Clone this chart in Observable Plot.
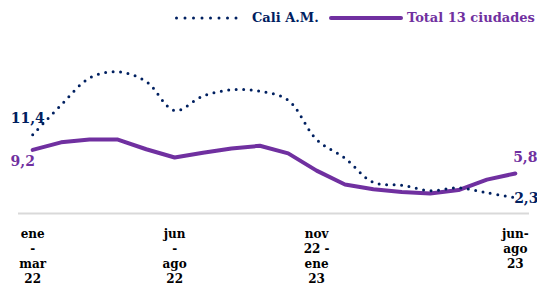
<!DOCTYPE html>
<html><head><meta charset="utf-8">
<script src="https://cdn.jsdelivr.net/npm/d3@7"></script>
<script src="https://cdn.jsdelivr.net/npm/@observablehq/plot@0.6"></script>
<style>
body{margin:0;background:#fff;font-family:"DejaVu Serif",serif;}
#legend{height:35px;position:relative;font-weight:bold;font-size:13px;}
#legend .el{position:absolute;white-space:nowrap;}
#legend span.el{top:10px;line-height:16px;}
#legend svg.el{top:13px;display:block;}
</style></head>
<body>
<div id="legend">
  <svg class="el" style="left:173px" width="76" height="10"><line x1="3.5" y1="5" x2="71.5" y2="5" stroke="#002060" stroke-width="3" stroke-dasharray="0 8.5" stroke-linecap="round"/></svg>
  <span class="el" style="left:252px;color:#002060">Cali A.M.</span>
  <svg class="el" style="left:329px" width="74" height="10"><line x1="2" y1="5" x2="72" y2="5" stroke="#7030A0" stroke-width="4" stroke-linecap="round"/></svg>
  <span class="el" style="left:407px;color:#7030A0">Total 13 ciudades</span>
</div>
<div id="chart"></div>
<script>
const periods = ["ene-mar 22","feb-abr 22","mar-may 22","abr-jun 22","may-jul 22","jun-ago 22","jul-sep 22","ago-oct 22","sep-nov 22","oct-dic 22","nov 22-ene 23","dic 22-feb 23","ene-mar 23","feb-abr 23","mar-may 23","abr-jun 23","may-jul 23","jun-ago 23"];
const cali = [11.4,15.7,19.6,20.5,19.1,14.9,17.0,17.9,17.7,16.4,10.7,8.0,4.5,4.1,3.3,3.7,3.0,2.3];
const total = [9.2,10.3,10.7,10.7,9.3,8.1,8.8,9.4,9.8,8.7,6.2,4.2,3.5,3.1,2.9,3.4,4.9,5.8];
const tickIdx = [0,5,10,17];
const tickLabels = ["ene\n-\nmar\n22","jun\n-\nago\n22","nov\n22 -\nene\n23","jun-\nago\n23"];

const caliData = cali.map((v,i)=>({i,v,p:periods[i]}));
const totalData = total.map((v,i)=>({i,v,p:periods[i]}));
const fmt = v => d3.format(".1f")(v).replace(".", ",");
const last = periods.length-1;

const chart = Plot.plot({
  width:537, height:258,
  marginLeft:18, marginRight:8, marginTop:26, marginBottom:80,
  style:{fontFamily:"DejaVu Serif, serif", background:"#fff"},
  x:{domain:[-0.5,last+0.5]},
  y:{domain:[0,22], axis:null},
  marks:[
    Plot.ruleY([0],{stroke:"#d9d9d9", strokeWidth:2}),
    Plot.axisX(tickIdx,{tickSize:0, tickFormat:(d)=>tickLabels[tickIdx.indexOf(d)], fontWeight:"bold", fontSize:12, fill:"#000", lineHeight:1.25, textAnchor:"middle", lineAnchor:"top", dy:5, label:null}),
    Plot.line(totalData,{x:"i",y:"v",stroke:"#7030A0",strokeWidth:4,strokeLinejoin:"round"}),
    Plot.line(caliData,{x:"i",y:"v",stroke:"#002060",strokeWidth:3,strokeDasharray:"0 7.5",strokeLinecap:"round",curve:"catmull-rom"}),
    Plot.text([caliData[0]],{x:"i",y:"v",text:d=>fmt(d.v),fill:"#002060",fontWeight:"bold",fontSize:14,dx:-5,dy:-16}),
    Plot.text([totalData[0]],{x:"i",y:"v",text:d=>fmt(d.v),fill:"#7030A0",fontWeight:"bold",fontSize:14,dx:-10,dy:12}),
    Plot.text([totalData[last]],{x:"i",y:"v",text:d=>fmt(d.v),fill:"#7030A0",fontWeight:"bold",fontSize:14,dx:10,dy:-16}),
    Plot.text([caliData[last]],{x:"i",y:"v",text:d=>fmt(d.v),fill:"#002060",fontWeight:"bold",fontSize:14,dx:11,dy:1})
  ]
});
document.getElementById("chart").appendChild(chart);
</script>
</body></html>
